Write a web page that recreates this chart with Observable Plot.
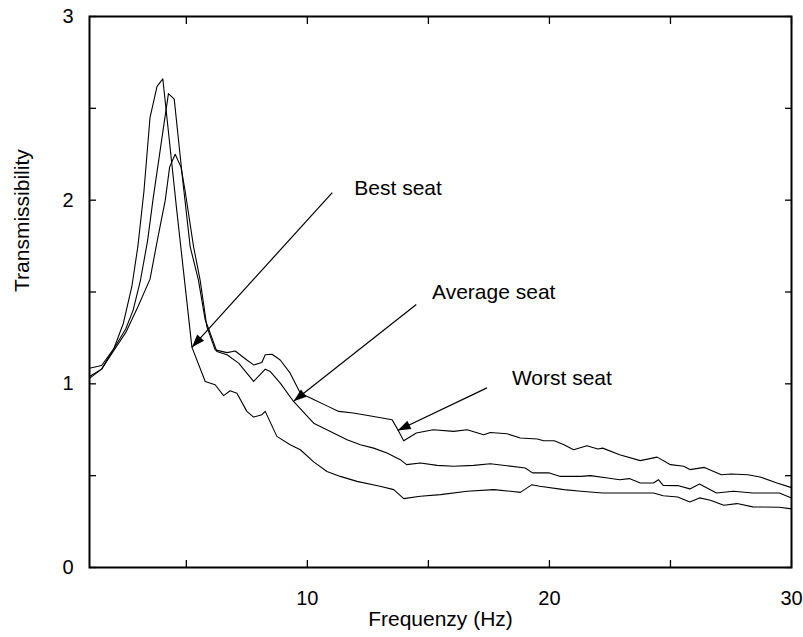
<!DOCTYPE html>
<html><head><meta charset="utf-8">
<script src="https://cdn.jsdelivr.net/npm/d3@7"></script>
<script src="https://cdn.jsdelivr.net/npm/@observablehq/plot@0.6"></script>
<style>body{margin:0;background:#fff;}</style>
</head><body><div id="chart"></div>
<script>
// ---- data ----
const bestFreq = [1,1.5,2,2.4,2.75,3.0,3.25,3.5,3.79,4.03,4.6,5.23,5.78,6.19,6.54,6.81,7.09,7.5,7.78,8.12,8.26,8.74,9.29,9.71,10.26,10.81,11.36,12.05,13.0,13.57,13.98,14.67,15.5,16.6,17.7,18.4,18.8,19.28,19.6,20.6,21.3,22.2,24.3,24.7,25.3,25.8,26.2,26.65,27.2,27.75,28.4,29.5,30];
const bestT = [1.03,1.08,1.19,1.33,1.53,1.75,2.05,2.45,2.62,2.66,1.95,1.2,1.013,0.995,0.936,0.962,0.949,0.85,0.819,0.832,0.85,0.714,0.668,0.641,0.575,0.523,0.496,0.469,0.442,0.424,0.375,0.388,0.397,0.415,0.424,0.415,0.409,0.451,0.442,0.424,0.415,0.406,0.406,0.391,0.384,0.357,0.379,0.366,0.339,0.348,0.33,0.328,0.319];

const avgFreq = [1,1.5,2,2.5,2.8,3.1,3.4,3.62,3.95,4.26,4.5,4.85,5.16,5.5,5.78,5.95,6.26,6.68,7.16,7.78,7.98,8.26,8.47,8.88,9.43,10.26,10.95,11.64,12.19,12.74,13.29,13.84,14.1,14.67,15.36,16.04,16.87,17.56,18.25,19.0,19.3,20.0,20.45,21.3,21.7,22.4,22.9,23.3,23.75,24.3,24.5,24.7,25.3,25.8,26.2,26.9,27.6,28.4,29.5,30];
const avgT = [1.085,1.1,1.19,1.3,1.4,1.56,1.78,2.0,2.3,2.58,2.55,2.11,1.746,1.565,1.348,1.29,1.176,1.158,1.113,1.013,1.04,1.08,1.067,1.004,0.904,0.786,0.741,0.696,0.668,0.65,0.623,0.587,0.56,0.569,0.556,0.551,0.556,0.565,0.554,0.542,0.515,0.515,0.496,0.496,0.5,0.487,0.478,0.484,0.46,0.46,0.478,0.447,0.446,0.428,0.455,0.406,0.415,0.406,0.406,0.379];

const worstFreq = [1,1.5,2,2.5,3.0,3.5,3.8,4.13,4.31,4.54,4.78,4.95,5.3,5.57,5.85,6.19,6.68,7.02,7.5,7.78,8.12,8.26,8.54,8.88,9.29,9.71,10.26,10.81,11.3,11.9,12.74,13.5,13.7,13.98,14.5,15.2,16.04,16.6,17.28,17.56,18.25,18.8,19.5,19.76,20.2,20.6,21.0,21.55,22.0,22.2,22.9,23.75,24.45,25.0,25.55,25.8,26.4,27.1,27.5,28.2,28.7,29.4,30];
const worstT = [1.04,1.08,1.18,1.28,1.42,1.57,1.78,2.0,2.18,2.25,2.18,2.05,1.746,1.565,1.31,1.185,1.17,1.179,1.13,1.103,1.116,1.158,1.161,1.13,1.058,0.949,0.915,0.88,0.85,0.841,0.822,0.804,0.759,0.69,0.732,0.75,0.741,0.75,0.723,0.735,0.728,0.705,0.7,0.69,0.69,0.668,0.641,0.663,0.645,0.65,0.614,0.582,0.601,0.56,0.551,0.533,0.545,0.505,0.509,0.505,0.493,0.46,0.435];

const xTickValues = [5,10,15,20,25,30];
const xTickLabels = [10,20,30];
const yTickValues = [0,0.5,1,1.5,2,2.5,3];
const yTickLabels = [0,1,2,3];

const annoLabels = ["Best seat","Average seat","Worst seat"];
const labelFreq = [11.94,15.15,18.45];
const labelT = [2.067,1.499,1.031];
const arrowFromFreq = [11.03,14.5,17.42];
const arrowFromT = [2.041,1.432,0.978];
const arrowToFreq = [5.23,9.43,13.73];
const arrowToT = [1.199,0.905,0.746];

const xTitle = "Frequenzy (Hz)";
const yTitle = "Transmissibility";

// ---- build ----
const series = [
  ...bestFreq.map((f,i)=>({f, t: bestT[i], seat: "Best"})),
  ...avgFreq.map((f,i)=>({f, t: avgT[i], seat: "Average"})),
  ...worstFreq.map((f,i)=>({f, t: worstT[i], seat: "Worst"}))
];
const arrows = annoLabels.map((name,i)=>({name, x1: arrowFromFreq[i], y1: arrowFromT[i], x2: arrowToFreq[i], y2: arrowToT[i]}));
const labels = annoLabels.map((name,i)=>({name, x: labelFreq[i], y: labelT[i]}));

const layout = {
  width: 803, height: 637,
  marginLeft: 89, marginRight: 12, marginTop: 16, marginBottom: 70,
  x: {domain: [1,30]},
  y: {domain: [0,3]},
  style: {fontFamily: "'Liberation Sans', Arial, sans-serif", fontSize: "20px", color: "black", background: "white"}
};

// scales for arrowhead orientation
const base = Plot.plot({...layout, marks: [Plot.line(series, {x: "f", y: "t", z: "seat"})]});
const sx = base.scale("x"), sy = base.scale("y");
arrows.forEach(a => {
  const dx = sx.apply(a.x2) - sx.apply(a.x1);
  const dy = sy.apply(a.y2) - sy.apply(a.y1);
  a.angle = Math.atan2(dx, -dy) * 180 / Math.PI;
});

const headSymbol = {
  draw(context) {
    context.moveTo(0, 0);
    context.lineTo(-4.6, 13);
    context.lineTo(4.6, 13);
    context.closePath();
  }
};

const fmtInt = d3.format("d");

const chart = Plot.plot({
  ...layout,
  marks: [
    Plot.line(series, {x: "f", y: "t", z: "seat", stroke: "black", strokeWidth: 1.1}),
    Plot.link(arrows, {x1: "x1", y1: "y1", x2: "x2", y2: "y2", stroke: "black", strokeWidth: 1.2}),
    Plot.dot(arrows, {x: "x2", y: "y2", symbol: headSymbol, rotate: "angle", fill: "black", stroke: "none"}),
    Plot.text(labels, {x: "x", y: "y", text: "name", textAnchor: "start", fontSize: 21, fill: "black"}),
    Plot.frame({stroke: "black", strokeWidth: 2}),
    Plot.axisX(xTickValues, {anchor: "bottom", tickSize: 7, dy: -7, fill: "none", label: null, strokeWidth: 1.3}),
    Plot.axisX(xTickValues, {anchor: "top", tickSize: 7, dy: 7, fill: "none", label: null, strokeWidth: 1.3}),
    Plot.axisY(yTickValues, {anchor: "left", tickSize: 7, dx: 7, fill: "none", label: null, strokeWidth: 1.3}),
    Plot.axisY(yTickValues, {anchor: "right", tickSize: 7, dx: -7, fill: "none", label: null, strokeWidth: 1.3}),
    Plot.axisX(xTickLabels, {anchor: "bottom", tickSize: 0, tickPadding: 23, label: null, fontSize: 20, tickFormat: fmtInt}),
    Plot.axisY(yTickLabels, {anchor: "left", tickSize: 0, tickPadding: 16, label: null, fontSize: 20, tickFormat: fmtInt}),
    Plot.text([xTitle], {frameAnchor: "bottom", dy: 58, fontSize: 21, fill: "black"}),
    Plot.text([yTitle], {frameAnchor: "left", dx: -67, rotate: -90, fontSize: 21, fill: "black"})
  ]
});
document.getElementById("chart").appendChild(chart);
</script>
</body></html>
